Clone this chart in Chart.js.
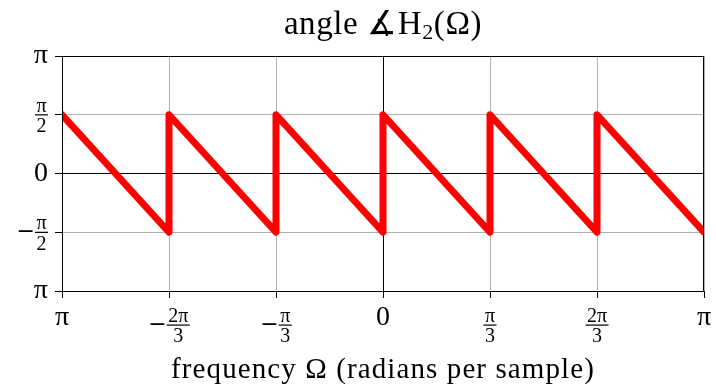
<!DOCTYPE html>
<html>
<head>
<meta charset="utf-8">
<script src="https://cdn.jsdelivr.net/npm/chart.js@4/dist/chart.umd.min.js"></script>
<style>
  body { margin: 0; background: #fff; }
</style>
</head>
<body>
<canvas id="myChart" width="716" height="390"></canvas>
<script>
// values in units of pi
const freq = [-1, -2/3, -2/3, -1/3, -1/3, 0, 0, 1/3, 1/3, 2/3, 2/3, 1];
const phase = [0.5, -0.5, 0.5, -0.5, 0.5, -0.5, 0.5, -0.5, 0.5, -0.5, 0.5, -0.5];

const xTicks = [-1, -2/3, -1/3, 0, 1/3, 2/3, 1];
const xTickLabels = ["π", "−2π/3", "−π/3", "0", "π/3", "2π/3", "π"];
const yTicks = [-1, -0.5, 0, 0.5, 1];
const yTickLabels = ["π", "−π/2", "0", "π/2", "π"];

const titleText = ["angle ∡H", "2", "(Ω)"];
const xTitle = "frequency Ω (radians per sample)";

const serif = "'Liberation Serif', 'DejaVu Serif', serif";

//draws a tick label, fractions get stacked
const drawLabel = (ctx, label, x, y, align) => {
  let sign = "";
  let s = label;
  if (s[0] === "−") {
    sign = "−";
    s = s.slice(1);
  }
  const parts = s.split("/");
  ctx.textBaseline = "middle";
  ctx.textAlign = "left";
  if (parts.length === 1) {
    ctx.font = "28px " + serif;
    const w = ctx.measureText(label).width;
    ctx.fillText(label, align === "center" ? x - w / 2 : x - w, y);
    return;
  }
  ctx.font = "20px " + serif;
  const nw = ctx.measureText(parts[0]).width;
  const dw = ctx.measureText(parts[1]).width;
  const fw = Math.max(nw, dw) + 3;
  ctx.font = "22px 'DejaVu Sans'";
  const sw = sign ? ctx.measureText(sign).width : 0;
  const total = sw + fw;
  const x0 = align === "center" ? x - total / 2 : x - total;
  if (sign) ctx.fillText(sign, x0, y);
  const fx = x0 + sw;
  ctx.fillRect(fx, y - 0.5, fw, 1.2);
  ctx.font = "20px " + serif;
  ctx.textBaseline = "alphabetic";
  ctx.fillText(parts[0], fx + (fw - nw) / 2, y - 3);
  ctx.textBaseline = "top";
  ctx.fillText(parts[1], fx + (fw - dw) / 2, y + 2);
};

const labelsPlugin = {
  id: "labels",
  afterDatasetsDraw(chart) {
    const ctx = chart.ctx;
    const area = chart.chartArea;
    ctx.save();
    ctx.strokeStyle = "#000";
    ctx.lineWidth = 1;
    ctx.strokeRect(area.left + 0.5, area.top + 0.5, area.right - area.left - 1, area.bottom - area.top);
    ctx.restore();
  },
  afterDraw(chart) {
    const ctx = chart.ctx;
    const area = chart.chartArea;
    const xs = chart.scales.x;
    const ys = chart.scales.y;
    ctx.save();
    ctx.fillStyle = "#000";

    xTicks.forEach((v, i) => {
      const lbl = xTickLabels[i];
      const y = lbl.includes("/") ? area.bottom + 34 : area.bottom + 27;
      drawLabel(ctx, lbl, xs.getPixelForValue(v), y, "center");
    });
    yTicks.forEach((v, i) => {
      drawLabel(ctx, yTickLabels[i], area.left - 14, ys.getPixelForValue(v), "right");
    });

    // title with subscript
    const cx = (area.left + area.right) / 2;
    ctx.textBaseline = "alphabetic";
    ctx.textAlign = "left";
    ctx.letterSpacing = "0.6px";
    ctx.font = "33px " + serif;
    const w1 = ctx.measureText(titleText[0]).width;
    const w3 = ctx.measureText(titleText[2]).width;
    ctx.font = "22px " + serif;
    const w2 = ctx.measureText(titleText[1]).width;
    let tx = cx - (w1 + w2 + w3) / 2;
    ctx.font = "33px " + serif;
    ctx.fillText(titleText[0], tx, 34);
    tx += w1;
    ctx.font = "22px " + serif;
    ctx.fillText(titleText[1], tx, 39);
    tx += w2;
    ctx.font = "33px " + serif;
    ctx.fillText(titleText[2], tx, 34);

    // x axis title
    ctx.font = "29px " + serif;
    ctx.letterSpacing = "1.1px";
    ctx.textAlign = "center";
    ctx.fillText(xTitle, cx, 378);
    ctx.restore();
  },
};

const gridColor = (c) => (c.tick && c.tick.value === 0 ? "#000" : "#b0b0b0");

var ctx = document.getElementById("myChart").getContext("2d");
var chart = new Chart(ctx, {
  type: "line",
  data: {
    datasets: [
      {
        data: freq.map((x, i) => ({ x: x, y: phase[i] })),
        borderColor: "#ff0000",
        borderWidth: 7,
        borderCapStyle: "round",
        borderJoinStyle: "round",
        pointRadius: 0,
        tension: 0,
        clip: 0,
      },
    ],
  },
  options: {
    responsive: false,
    animation: false,
    layout: { padding: { left: 62, right: 12, top: 56, bottom: 99 } },
    plugins: { legend: { display: false }, tooltip: { enabled: false } },
    scales: {
      x: {
        type: "linear",
        min: -1,
        max: 1,
        afterBuildTicks: (s) => {
          s.ticks = xTicks.map((v) => ({ value: v }));
        },
        afterFit: (s) => {
          s.height = 0;
        },
        ticks: { display: false },
        grid: { color: gridColor, tickColor: "#000", tickLength: 7, lineWidth: 1 },
        border: { display: false },
      },
      y: {
        type: "linear",
        min: -1,
        max: 1,
        afterBuildTicks: (s) => {
          s.ticks = yTicks.map((v) => ({ value: v }));
        },
        afterFit: (s) => {
          s.width = 0;
        },
        ticks: { display: false },
        grid: { color: gridColor, tickColor: "#000", tickLength: 7, lineWidth: 1 },
        border: { display: false },
      },
    },
  },
  plugins: [labelsPlugin],
});
</script>
</body>
</html>
